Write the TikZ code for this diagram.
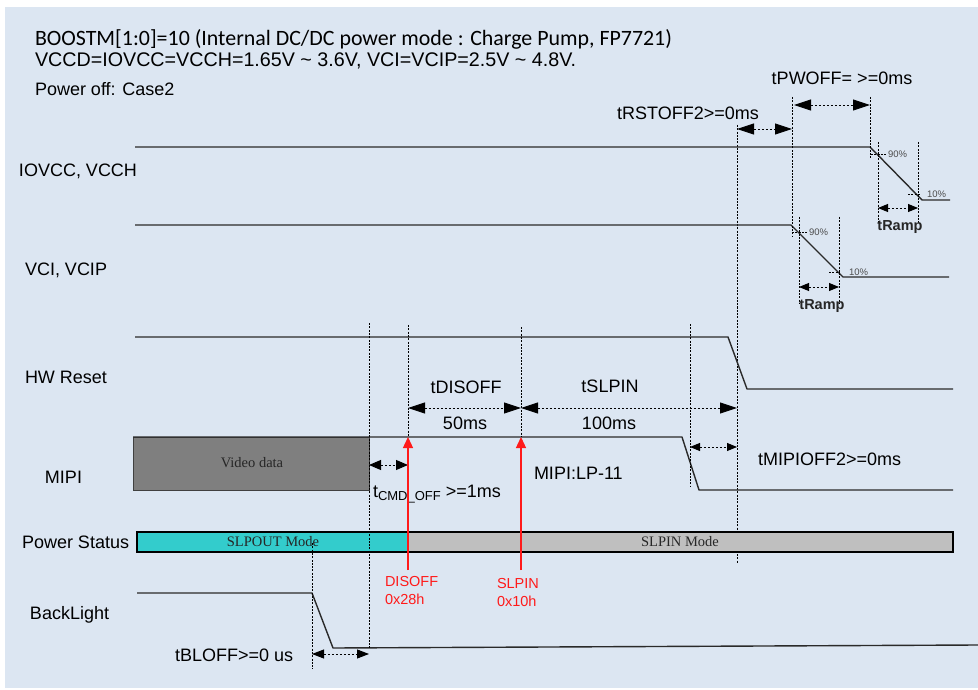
\documentclass[tikz,border=0pt]{standalone}
\usepackage{fontspec}
\setmainfont{Liberation Sans}
\newfontfamily\calibfont{Carlito}
\newfontfamily\seriffont{Liberation Serif}
\usetikzlibrary{arrows.meta}
\definecolor{bgblue}{HTML}{DCE6F2}
\definecolor{sig}{HTML}{2A2A2A}
\definecolor{cyanbar}{HTML}{33CCCC}
\definecolor{graybar}{HTML}{BFBFBF}
\definecolor{videogray}{HTML}{7F7F7F}
\definecolor{redc}{HTML}{FF1A1A}
\begin{document}
\begin{tikzpicture}[x=1pt,y=-1pt,
  every node/.style={inner sep=0pt,outer sep=0pt},
  lab/.style={font=\fontsize{18}{21}\selectfont,text=black},
  pct/.style={font=\fontsize{9.5}{11}\selectfont,text=black!70},
  ramp/.style={font=\bfseries\fontsize{14.5}{16}\selectfont,text=black!85},
  redlab/.style={font=\fontsize{14.5}{18}\selectfont,text=redc,align=left},
  serifl/.style={font=\seriffont\fontsize{14.5}{16}\selectfont,text=black!85},
  sigline/.style={draw=sig,line width=1.4pt,line join=round},
  guide/.style={draw=black,line width=0.8pt,dash pattern=on 2pt off 1.3pt},
  bigdim/.style={draw=black,line width=0.9pt,dash pattern=on 2.5pt off 1.5pt,{Triangle[length=17pt,width=11pt]}-{Triangle[length=17pt,width=11pt]}},
  smalldim/.style={draw=black,line width=0.9pt,dash pattern=on 2.5pt off 1.5pt,{Triangle[length=10pt,width=8pt]}-{Triangle[length=10pt,width=8pt]}},
  redarrow/.style={draw=redc,line width=1.3pt,-{Triangle[length=11pt,width=10pt]}},
]
\useasboundingbox (0,0) rectangle (978,690);
\fill[bgblue] (5,7) rectangle (978,688);

% ---- header texts
\node[anchor=west,font=\calibfont\fontsize{21.9}{24}\selectfont] (title1) at (35,39) {BOOSTM[1:0]=10 (Internal DC/DC power mode : Charge Pump, FP7721)};
\node[anchor=west,font=\fontsize{19.7}{22}\selectfont] (title2) at (35,61) {VCCD=IOVCC=VCCH=1.65V \textasciitilde{} 3.6V, VCI=VCIP=2.5V \textasciitilde{} 4.8V.};
\node[anchor=west,lab] (title3) at (35,89) {Power off: Case2};

% ---- signal labels
\node[anchor=west,lab] (lio) at (19,171) {IOVCC, VCCH};
\node[anchor=west,lab] (lvci) at (25,270) {VCI, VCIP};
\node[anchor=west,lab] (lhw) at (25,377) {HW Reset};
\node[anchor=west,lab] (lmipi) at (45,477) {MIPI};
\node[anchor=west,lab] (lps) at (22,542) {Power Status};
\node[anchor=west,lab] (lbl) at (30,615) {BackLight};

% ---- coordinates
\coordinate (ioA) at (135,147); \coordinate (ioB) at (870,147);
\coordinate (ioC) at (922,200); \coordinate (ioD) at (950,200);
\coordinate (vcA) at (135,225); \coordinate (vcB) at (791,225);
\coordinate (vcC) at (843,277); \coordinate (vcD) at (949,277);
\coordinate (hwA) at (135,337); \coordinate (hwB) at (728,337);
\coordinate (hwC) at (747,389); \coordinate (hwD) at (953,389);
\coordinate (miA) at (369,437); \coordinate (miB) at (682,437);
\coordinate (miC) at (699,490); \coordinate (miD) at (953,490);
\coordinate (blA) at (137,593); \coordinate (blB) at (312,593);
\coordinate (blC) at (333,648); \coordinate (blD) at (978,645);

% ---- long guide behind the power bar
\coordinate (g737t) at (737,125); \coordinate (g737b) at (737,563);
\draw[guide] (g737t) -- (g737b);

% ---- waveforms
\draw[sigline] (ioA) -- (ioB) -- (ioC) -- (ioD);
\draw[sigline] (vcA) -- (vcB) -- (vcC) -- (vcD);
\draw[sigline] (hwA) -- (hwB) -- (hwC) -- (hwD);
\node[draw=black!75,line width=0.8pt,fill=videogray,minimum width=236pt,minimum height=53pt,anchor=north west] (video) at (133,437) {};
\node[serifl] (videotxt) at (252,463) {Video data};
\draw[sigline] (video.north west) -- (miA) -- (miB) -- (miC) -- (miD);
\draw[sigline] (blA) -- (blB) -- (blC) -- (blD);

% ---- power status bar
\node[fill=cyanbar,minimum width=271pt,minimum height=20pt,anchor=north west] (slpout) at (137,532) {};
\node[fill=graybar,minimum width=545pt,minimum height=20pt,anchor=north west] (slpin) at (408,532) {};
\draw[black,line width=1.2pt] (slpout.north west) rectangle (slpin.south east);
\node[serifl] (slpouttxt) at (273,542) {SLPOUT Mode};
\node[serifl] (slpintxt) at (680,542) {SLPIN Mode};

% ---- guides
\coordinate (g792t) at (792,97);  \coordinate (g792b) at (792,236);
\coordinate (g870t) at (870,97);  \coordinate (g870b) at (870,159);
\coordinate (g878t) at (878,142); \coordinate (g878b) at (878,223);
\coordinate (g918t) at (918,142); \coordinate (g918b) at (918,223);
\coordinate (g799t) at (799,217); \coordinate (g799b) at (799,303);
\coordinate (g839t) at (839,217); \coordinate (g839b) at (839,303);
\coordinate (g369t) at (369,323); \coordinate (g369b) at (369,648);
\coordinate (g408t) at (408,325); \coordinate (g408b) at (408,437);
\coordinate (g521t) at (521,327); \coordinate (g521b) at (521,437);
\coordinate (g690t) at (690,324); \coordinate (g690b) at (690,487);
\coordinate (g312t) at (312,543); \coordinate (g312b) at (312,669);
\foreach \g in {792,870,878,918,799,839,369,408,521,690,312}
  \draw[guide] (g\g t) -- (g\g b);

% ---- 90% / 10% ticks
\coordinate (t1a) at (871,154); \coordinate (t1b) at (886,154);
\coordinate (t2a) at (908,194); \coordinate (t2b) at (921,194);
\coordinate (t3a) at (792,232); \coordinate (t3b) at (807,232);
\coordinate (t4a) at (829,272); \coordinate (t4b) at (839,272);
\draw[guide] (t1a) -- (t1b);
\draw[guide] (t2a) -- (t2b);
\draw[guide] (t3a) -- (t3b);
\draw[guide] (t4a) -- (t4b);
\node[pct,anchor=west] (p90a) at (888,154) {90\%};
\node[pct,anchor=west] (p10a) at (927,194) {10\%};
\node[pct,anchor=west] (p90b) at (809,232) {90\%};
\node[pct,anchor=west] (p10b) at (849,272) {10\%};

% ---- dimension arrows
\coordinate (pwL) at (794,105); \coordinate (pwR) at (870,105);
\draw[bigdim] (pwL) -- (pwR);
\node[lab] (tpwoff) at (842,78) {tPWOFF= >=0ms};
\coordinate (rsL) at (737,129); \coordinate (rsR) at (792,129);
\draw[bigdim] (rsL) -- (rsR);
\node[lab] (trstoff) at (688,113) {tRSTOFF2>=0ms};

\coordinate (r1L) at (878,208); \coordinate (r1R) at (918,208);
\draw[smalldim] (r1L) -- (r1R);
\node[ramp] (tramp1) at (900,227) {tRamp};
\coordinate (r2L) at (799,287); \coordinate (r2R) at (839,287);
\draw[smalldim] (r2L) -- (r2R);
\node[ramp] (tramp2) at (822,306) {tRamp};

\coordinate (dsL) at (408,408); \coordinate (dsR) at (521,408);
\draw[bigdim] (dsL) -- (dsR);
\node[lab] (tdisoff) at (466,387) {tDISOFF};
\node[lab] (t50) at (465,423) {50ms};
\coordinate (spR) at (737,408);
\draw[bigdim] (dsR) -- (spR);
\node[lab] (tslpin) at (610,386) {tSLPIN};
\node[lab] (t100) at (609,423) {100ms};

\coordinate (cmL) at (369,465); \coordinate (cmR) at (408,465);
\draw[smalldim,{Triangle[length=12pt,width=10pt]}-{Triangle[length=12pt,width=10pt]}] (cmL) -- (cmR);
\node[lab,anchor=base west] (tcmd) at (373,497) {t\raisebox{-0.35ex}{\fontsize{13}{14}\selectfont CMD\_OFF} >=1ms};

\coordinate (moL) at (690,447); \coordinate (moR) at (737,447);
\draw[smalldim] (moL) -- (moR);
\node[lab,anchor=west] (tmipioff) at (758,459) {tMIPIOFF2>=0ms};
\node[lab,anchor=west] (lp11) at (534,473) {MIPI:LP-11};

\coordinate (boL) at (312,654); \coordinate (boR) at (369,654);
\draw[smalldim,{Triangle[length=12pt,width=9pt]}-{Triangle[length=12pt,width=9pt]}] (boL) -- (boR);
\node[lab,anchor=west] (tbloff) at (175,655) {tBLOFF>=0 us};

% ---- red command arrows
\coordinate (disB) at (408,570); \coordinate (slpB) at (521,570);
\draw[redarrow] (disB) -- (g408b);
\draw[redarrow] (slpB) -- (g521b);
\node[redlab,anchor=north west] (disoff) at (385,576) {DISOFF\\0x28h};
\node[redlab,anchor=north west] (slpincmd) at (497,578) {SLPIN\\0x10h};
\end{tikzpicture}
\end{document}
